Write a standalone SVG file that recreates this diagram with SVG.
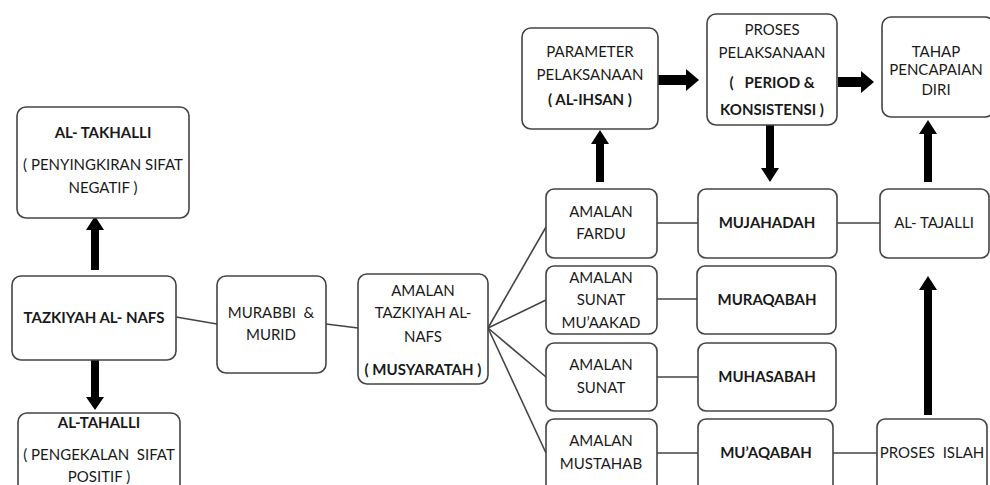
<svg xmlns="http://www.w3.org/2000/svg" width="990" height="485" viewBox="0 0 990 485">
<style>
.box{fill:#fff;stroke:#444;stroke-width:1.6}
.t{font-family:Lato,"Liberation Sans",sans-serif;font-size:15px;fill:#1a1a1a;text-anchor:middle;white-space:pre}
.b{font-weight:bold}
.ln{stroke:#444;stroke-width:1.6;fill:none}
.ar{fill:#000}
</style>
<rect width="990" height="485" fill="#fff"/>
<g id="connectors">
<line class="ln" x1="176" y1="317" x2="217" y2="324"/>
<line class="ln" x1="326" y1="324" x2="358" y2="328"/>
<line class="ln" x1="488" y1="328" x2="546" y2="227"/>
<line class="ln" x1="488" y1="328" x2="546" y2="300"/>
<line class="ln" x1="488" y1="328" x2="546" y2="377"/>
<line class="ln" x1="488" y1="328" x2="546" y2="453"/>
<line class="ln" x1="657" y1="223" x2="698" y2="223"/>
<line class="ln" x1="837" y1="223" x2="880" y2="223"/>
<line class="ln" x1="657" y1="299" x2="697" y2="299"/>
<line class="ln" x1="657" y1="377" x2="698" y2="377"/>
<line class="ln" x1="657" y1="453" x2="698" y2="453"/>
<line class="ln" x1="833" y1="453" x2="877" y2="453"/>
<polygon class="ar" points="91,270 99,270 99,230 104,230 95,216 86,230 91,230"/>
<polygon class="ar" points="91,360 99,360 99,397 104,397 95,410 86,397 91,397"/>
<polygon class="ar" points="596,182 604,182 604,144 609,144 600,130 591,144 596,144"/>
<polygon class="ar" points="766,125 774,125 774,168 779,168 770,182 761,168 766,168"/>
<polygon class="ar" points="924,182 932,182 932,134 937,134 928,120 919,134 924,134"/>
<polygon class="ar" points="924,415 932,415 932,290 937,290 928,276 919,290 924,290"/>
<polygon class="ar" points="654,75 686,75 686,69 699,80 686,91 686,85 654,85"/>
<polygon class="ar" points="838,77 861,77 861,71 874,82 861,93 861,87 838,87"/>
</g>
<g id="takhalli"><rect class="box" x="17" y="107" width="172" height="111" rx="9"/>
<text class="t b" x="103" y="138">AL- TAKHALLI</text>
<text class="t" x="103" y="170">( PENYINGKIRAN SIFAT</text>
<text class="t" x="103" y="193">NEGATIF )</text></g>
<g id="tazkiyah"><rect class="box" x="12" y="276" width="164" height="84" rx="9"/>
<text class="t b" x="94" y="323">TAZKIYAH AL- NAFS</text></g>
<g id="tahalli"><rect class="box" x="18" y="413" width="162" height="90" rx="9"/>
<text class="t b" x="99" y="428">AL-TAHALLI</text>
<text class="t" x="99" y="460" xml:space="preserve">( PENGEKALAN  SIFAT</text>
<text class="t" x="99" y="482">POSITIF )</text></g>
<g id="murabbi"><rect class="box" x="217" y="276" width="109" height="97" rx="9"/>
<text class="t" x="271" y="318" xml:space="preserve">MURABBI  &amp;</text>
<text class="t" x="271" y="340">MURID</text></g>
<g id="amalan-tazkiyah"><rect class="box" x="358" y="274" width="130" height="110" rx="9"/>
<text class="t" x="423" y="296">AMALAN</text>
<text class="t" x="423" y="318">TAZKIYAH AL-</text>
<text class="t" x="423" y="342">NAFS</text>
<text class="t b" x="423" y="375">( MUSYARATAH )</text></g>
<g id="fardu"><rect class="box" x="546" y="189" width="111" height="69" rx="8"/>
<text class="t" x="601" y="217">AMALAN</text>
<text class="t" x="601" y="239">FARDU</text></g>
<g id="muaakad"><rect class="box" x="546" y="266" width="111" height="68" rx="8"/>
<text class="t" x="601" y="283">AMALAN</text>
<text class="t" x="601" y="305">SUNAT</text>
<text class="t" x="601" y="328">MU’AAKAD</text></g>
<g id="sunat"><rect class="box" x="546" y="343" width="111" height="68" rx="8"/>
<text class="t" x="601" y="370">AMALAN</text>
<text class="t" x="601" y="393">SUNAT</text></g>
<g id="mustahab"><rect class="box" x="546" y="419" width="111" height="80" rx="8"/>
<text class="t" x="601" y="446">AMALAN</text>
<text class="t" x="601" y="469">MUSTAHAB</text></g>
<g id="mujahadah"><rect class="box" x="698" y="189" width="139" height="69" rx="8"/>
<text class="t b" x="767" y="228">MUJAHADAH</text></g>
<g id="muraqabah"><rect class="box" x="697" y="266" width="139" height="68" rx="8"/>
<text class="t b" x="767" y="305">MURAQABAH</text></g>
<g id="muhasabah"><rect class="box" x="698" y="343" width="138" height="68" rx="8"/>
<text class="t b" x="767" y="382">MUHASABAH</text></g>
<g id="muaqabah"><rect class="box" x="698" y="419" width="135" height="80" rx="8"/>
<text class="t b" x="766" y="458">MU’AQABAH</text></g>
<g id="tajalli"><rect class="box" x="880" y="189" width="109" height="69" rx="8"/>
<text class="t" x="934" y="228">AL- TAJALLI</text></g>
<g id="islah"><rect class="box" x="877" y="419" width="110" height="80" rx="8"/>
<text class="t" x="932" y="458" xml:space="preserve">PROSES  ISLAH</text></g>
<g id="parameter"><rect class="box" x="522" y="28" width="136" height="101" rx="9"/>
<text class="t" x="590" y="57">PARAMETER</text>
<text class="t" x="590" y="80">PELAKSANAAN</text>
<text class="t b" x="590" y="105">( AL-IHSAN )</text></g>
<g id="proses"><rect class="box" x="707" y="14" width="130" height="111" rx="9"/>
<text class="t" x="772" y="35">PROSES</text>
<text class="t" x="772" y="58">PELAKSANAAN</text>
<text class="t b" x="772" y="88" xml:space="preserve">(   PERIOD &amp;</text>
<text class="t b" x="772" y="115">KONSISTENSI )</text></g>
<g id="tahap"><rect class="box" x="882" y="17" width="112" height="100" rx="9"/>
<text class="t" x="936" y="57">TAHAP</text>
<text class="t" x="936" y="75">PENCAPAIAN</text>
<text class="t" x="936" y="95">DIRI</text></g>
</svg>
